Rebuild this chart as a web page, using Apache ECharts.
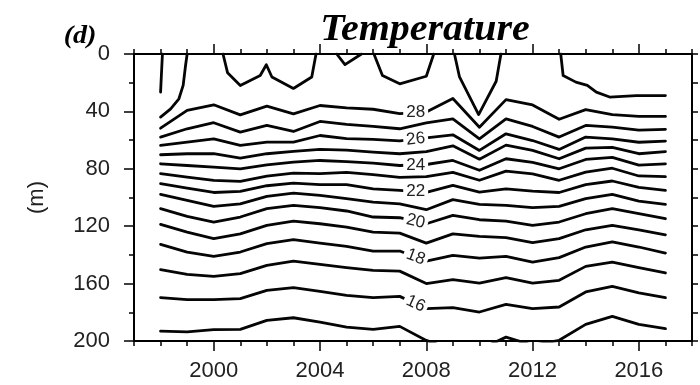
<!DOCTYPE html>
<html>
<head>
<meta charset="utf-8">
<script src="https://cdn.jsdelivr.net/npm/echarts@6/dist/echarts.min.js"></script>
<style>
html,body{margin:0;padding:0;background:#fff;}
#c{width:700px;height:385px;}
</style>
</head>
<body>
<div id="c"></div>
<script>
// ---------- data ----------
const years = [1998,1999,2000,2001,2002,2003,2004,2005,2006,2007,2008,2009,2010,2011,2012,2013,2014,2015,2016,2017];
const xTickLabels = [2000,2004,2008,2012,2016];
const yTickLabels = [0,40,80,120,160,200];

// depth (m) of each isotherm for every year
const iso28 = [51.7,39.3,35.4,42.4,36.3,41.7,35.9,37.5,38.5,41.5,40.5,31.0,51.0,31.8,35.5,45.5,38.8,42.3,43.4,43.5];
const iso27 = [57.9,52.1,47.9,54.4,49.8,54.0,47.0,49.0,50.5,52.1,48.0,45.2,59.1,45.2,50.5,57.9,49.8,51.0,53.0,52.5];
const iso26 = [63.7,61.4,59.1,63.7,61.4,61.4,56.8,59.0,59.5,60.5,58.5,56.3,67.2,55.6,60.3,66.5,57.9,59.1,61.5,60.7];
const iso25 = [70.2,69.5,69.5,72.5,69.5,67.9,66.5,67.0,68.4,69.5,68.0,64.0,73.3,63.5,67.2,73.0,65.6,65.0,69.5,68.0];
const iso24 = [76.5,77.7,78.8,80.0,77.2,75.3,74.2,75.0,76.0,77.7,77.0,74.2,81.0,73.0,75.6,80.0,73.5,72.0,77.5,76.5];
const iso23 = [83.4,85.8,88.1,88.8,85.1,83.0,83.4,82.5,84.0,86.0,85.5,82.5,88.0,81.6,83.5,88.0,82.3,79.6,85.0,85.5];
const iso22 = [90.4,93.5,96.5,95.8,91.8,90.0,91.0,91.0,94.0,95.0,96.5,91.6,96.2,94.0,95.5,96.5,91.0,88.5,93.0,95.0];
const iso21 = [97.8,102.0,106.2,104.4,99.2,96.9,98.5,100.8,103.2,104.4,108.5,101.5,104.8,105.5,107.1,106.2,100.8,97.8,102.5,104.8];
const iso20 = [107.8,113.2,117.1,113.6,107.8,105.5,107.1,109.4,113.6,114.1,118.3,112.5,115.5,116.4,119.4,117.1,111.3,107.8,111.3,114.8];
const iso19 = [118.7,124.1,128.7,125.3,119.4,116.4,118.3,120.6,124.1,124.8,131.8,125.3,127.1,128.0,131.5,128.7,122.5,119.4,122.5,126.0];
const iso18 = [132.7,138.0,141.0,138.0,132.2,129.4,131.8,134.1,137.3,137.3,144.3,140.3,142.2,141.0,145.0,141.9,134.5,131.0,134.5,138.7];
const iso17 = [150.3,153.6,155.0,153.1,147.3,144.3,146.6,148.9,150.8,151.3,160.0,157.3,159.6,155.9,159.6,157.7,148.0,145.0,148.9,152.6];
const iso16 = [169.8,171.2,171.2,170.5,164.7,162.8,165.4,168.2,169.8,168.9,177.5,176.8,179.8,174.5,177.5,176.3,165.8,161.9,166.5,169.8];
const iso15 = [193.1,193.7,192.1,191.9,185.6,183.8,186.8,190.3,191.9,189.8,199.6,206.0,206.0,197.3,203.0,199.5,188.4,182.8,188.4,191.4];

// near-surface contour fragments: [year, depth]
const surfA = [[1998.0,26.6],[1998.03,15],[1998.07,0]];
const surfB = [[1998.0,44.0],[1998.38,38.2],[1998.69,31.2],[1998.85,21.9],[1998.94,8.0],[1999.0,0]];
const surfC = [[2000.35,0],[2000.52,13],[2001.0,22],[2001.75,15],[2001.98,7.5],[2002.19,16],[2003.0,24],[2003.69,16],[2003.85,0]];
const surfD = [[2004.63,0],[2004.94,7.4],[2005.56,0]];
const surfE = [[2006.03,0],[2006.35,15],[2007.0,20.8],[2008.0,15.5],[2008.28,0]];
const surfF = [[2009.06,0],[2009.25,16],[2009.97,42.2],[2010.63,19],[2010.81,0]];
const surfG = [[2013.06,0],[2013.15,15],[2013.63,19.6],[2014.06,21.9],[2014.4,26.6],[2014.9,30],[2015.9,29],[2017.0,29]];

const isoTemps = [28,27,26,25,24,23,22,21,20,19,18,17,16,15];
const isoDepths = [iso28,iso27,iso26,iso25,iso24,iso23,iso22,iso21,iso20,iso19,iso18,iso17,iso16,iso15];
const labeledTemps = [28,26,24,22,20,18,16];
const labelYear = 2007.6;

// ---------- chart ----------
const chart = echarts.init(document.getElementById('c'), null, {renderer:'canvas'});
const LINE_COLOR = '#050505';
const FONT = 'Liberation Sans';

function interp(arr, yr){
  const i = Math.floor(yr) - years[0];
  const f = yr - Math.floor(yr);
  return arr[i] + (arr[i+1]-arr[i])*f;
}

function lineSeries(name, data){
  return {
    name, type:'line', data, showSymbol:false, symbol:'none', silent:true,
    clip:true, animation:false,
    lineStyle:{color:LINE_COLOR, width:2.8, join:'round', cap:'round'}
  };
}

const series = [];
isoDepths.forEach((arr, k) => {
  series.push(lineSeries('T'+isoTemps[k], years.map((y,i)=>[y, arr[i]])));
});
[surfA,surfB,surfC,surfD,surfE,surfF,surfG].forEach((s,k)=>series.push(lineSeries('S'+k, s)));

const axisLineStyle = {color:'#000', width:2};
const tickStyle = {color:'#000', width:1.5};

const option = {
  animation:false,
  backgroundColor:'#fff',
  textStyle:{fontFamily:FONT},
  grid:{left:134, right:8, top:54, bottom:44, outerBoundsMode:'none'},
  xAxis:[
    {type:'value', position:'bottom', min:1997, max:2018, interval:1,
     axisLine:{show:true, onZero:false, lineStyle:axisLineStyle},
     axisTick:{show:true, length:5, lineStyle:tickStyle},
     axisLabel:{show:true, customValues:xTickLabels, formatter:v=> xTickLabels.indexOf(v)>=0 ? String(v) : '',
                fontSize:22, color:'#222', margin:19, fontFamily:FONT},
     splitLine:{show:false}},
    {type:'value', position:'bottom', min:1997, max:2018, interval:1,
     axisLine:{show:false, onZero:false},
     axisTick:{show:true, length:10, customValues:xTickLabels, lineStyle:tickStyle},
     axisLabel:{show:false}, splitLine:{show:false}},
    {type:'value', position:'top', min:1997, max:2018, interval:1,
     axisLine:{show:true, onZero:false, lineStyle:axisLineStyle},
     axisTick:{show:true, length:5, lineStyle:tickStyle},
     axisLabel:{show:false}, splitLine:{show:false}},
    {type:'value', position:'top', min:1997, max:2018, interval:1,
     axisLine:{show:false, onZero:false},
     axisTick:{show:true, length:10, customValues:xTickLabels, lineStyle:tickStyle},
     axisLabel:{show:false}, splitLine:{show:false}}
  ],
  yAxis:[
    {type:'value', position:'left', inverse:true, min:0, max:200, interval:40,
     axisLine:{show:true, onZero:false, lineStyle:axisLineStyle},
     axisTick:{show:true, length:10, lineStyle:tickStyle},
     minorTick:{show:true, splitNumber:2, length:5, lineStyle:tickStyle},
     axisLabel:{show:true, fontSize:22, color:'#222', margin:24, fontFamily:FONT,
                formatter:v=> yTickLabels.indexOf(v)>=0 ? String(v) : ''},
     name:'(m)', nameLocation:'middle', nameGap:86, nameRotate:90,
     nameTextStyle:{fontSize:22, color:'#222', fontFamily:FONT},
     splitLine:{show:false}, minorSplitLine:{show:false}},
    {type:'value', position:'right', inverse:true, min:0, max:200, interval:20,
     axisLine:{show:true, onZero:false, lineStyle:axisLineStyle},
     axisTick:{show:true, length:6, lineStyle:tickStyle},
     axisLabel:{show:false}, splitLine:{show:false}}
  ],
  graphic:[
    {type:'text', x:425, y:30, scaleX:1.08, silent:true,
     style:{text:'Temperature', font:'italic bold 37px "Liberation Serif"', fill:'#000',
            textAlign:'center', textVerticalAlign:'middle'}},
    {type:'text', x:80, y:36, scaleX:1.08, silent:true,
     style:{text:'(d)', font:'italic bold 26px "Liberation Serif"', fill:'#000',
            textAlign:'center', textVerticalAlign:'middle'}}
  ],
  series
};
chart.setOption(option);

// contour labels placed on the lines, rotated along the local line direction
const labelUpdates = series.map(()=>({}));
isoTemps.forEach((t,k)=>{
  if (labeledTemps.indexOf(t) < 0) return;
  const arr = isoDepths[k];
  const i0 = Math.floor(labelYear) - years[0];
  const p0 = chart.convertToPixel({gridIndex:0}, [years[i0], arr[i0]]);
  const p1 = chart.convertToPixel({gridIndex:0}, [years[i0+1], arr[i0+1]]);
  let ang = -Math.atan2(p1[1]-p0[1], p1[0]-p0[0]) * 180 / Math.PI;
  if (Math.abs(ang) < 6) ang = 0;
  labelUpdates[k] = {
    markPoint:{
      silent:true, animation:false, symbol:'rect', symbolSize:1,
      itemStyle:{color:'rgba(0,0,0,0)'},
      label:{show:true, position:'inside', formatter:String(t), fontSize:17, color:'#222',
             fontFamily:FONT, backgroundColor:'#fff', padding:[0,3], lineHeight:15, rotate:ang},
      data:[{coord:[labelYear, interp(arr, labelYear)], value:t}]
    }
  };
});
chart.setOption({series:labelUpdates});
</script>
</body>
</html>
